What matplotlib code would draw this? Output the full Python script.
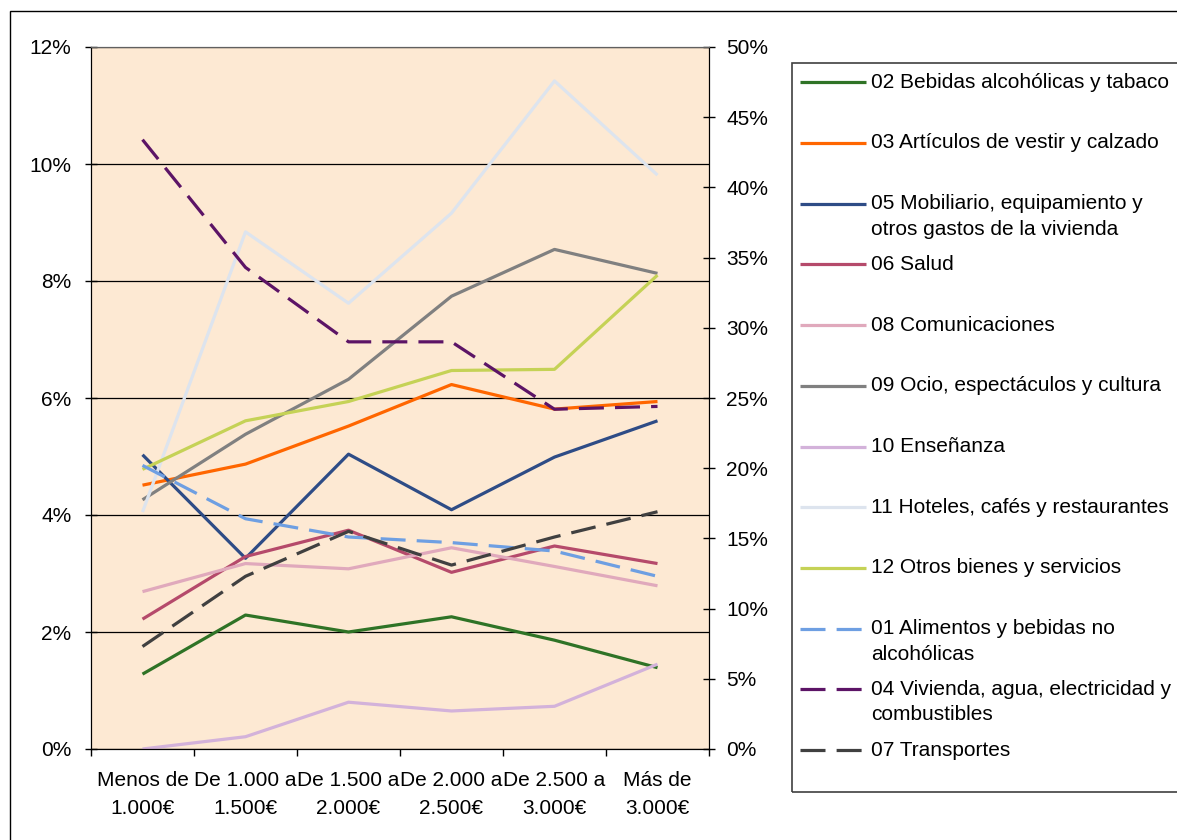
"""
Gasto por grupos de consumo según tramo de ingresos (Excel-style chart).
Solid lines use the left axis, dashed lines the right axis.
"""

import numpy as np
import matplotlib
matplotlib.use("Agg")
import matplotlib.pyplot as plt
from matplotlib.lines import Line2D
from matplotlib.patches import Rectangle
from matplotlib.ticker import PercentFormatter, FixedLocator

plt.rcParams["font.family"] = ["Liberation Sans", "DejaVu Sans"]
plt.rcParams["lines.scale_dashes"] = False

categories = ["Menos de\n1.000€", "De 1.000 a\n1.500€", "De 1.500 a\n2.000€",
              "De 2.000 a\n2.500€", "De 2.500 a\n3.000€", "Más de\n3.000€"]

# left axis series (share of spending)
bebidas = [0.0128, 0.0229, 0.0200, 0.0226, 0.0186, 0.0139]
vestir = [0.0451, 0.0487, 0.0552, 0.0623, 0.0581, 0.0594]
mobiliario = [0.0503, 0.0326, 0.0504, 0.0409, 0.0499, 0.0561]
salud = [0.0222, 0.0329, 0.0374, 0.0302, 0.0347, 0.0317]
comunicaciones = [0.0269, 0.0317, 0.0308, 0.0344, 0.0312, 0.0279]
ocio = [0.0426, 0.0538, 0.0632, 0.0774, 0.0854, 0.0813]
ensenanza = [0.0000, 0.0021, 0.0080, 0.0065, 0.0073, 0.0145]
hoteles = [0.0405, 0.0884, 0.0762, 0.0916, 0.1142, 0.0981]
otros = [0.0478, 0.0561, 0.0594, 0.0647, 0.0649, 0.0810]

# right axis series
alimentos = [0.202, 0.164, 0.151, 0.147, 0.141, 0.123]
vivienda = [0.434, 0.343, 0.290, 0.290, 0.242, 0.244]
transportes = [0.073, 0.123, 0.155, 0.131, 0.151, 0.169]

left_series = [
    ("02 Bebidas alcohólicas y tabaco", bebidas, "#2F7326"),
    ("03 Artículos de vestir y calzado", vestir, "#FF6600"),
    ("05 Mobiliario, equipamiento y\notros gastos de la vivienda", mobiliario, "#2E4C86"),
    ("06 Salud", salud, "#B54A6B"),
    ("08 Comunicaciones", comunicaciones, "#E0A9BC"),
    ("09 Ocio, espectáculos y cultura", ocio, "#808080"),
    ("10 Enseñanza", ensenanza, "#D3B2DA"),
    ("11 Hoteles, cafés y restaurantes", hoteles, "#DDE4EE"),
    ("12 Otros bienes y servicios", otros, "#C5D256"),
]
right_series = [
    ("01 Alimentos y bebidas no\nalcohólicas", alimentos, "#6E9FE2"),
    ("04 Vivienda, agua, electricidad y\ncombustibles", vivienda, "#5C1466"),
    ("07 Transportes", transportes, "#404040"),
]

W, H = 1177, 840
FS = 15
LW = 2.3
DASH = (18, 8)

fig = plt.figure(figsize=(W / 100, H / 100), dpi=100)
fig.patch.set_facecolor("white")

ax = fig.add_axes([91 / W, 1 - 749 / H, 618 / W, 702 / H])
ax.set_facecolor("#FDE9D3")
x = np.arange(len(categories))

for label, vals, color in left_series:
    ax.plot(x, vals, color=color, lw=LW, solid_capstyle="butt")

ax.set_xlim(-0.5, len(categories) - 0.5)
ax.set_ylim(0, 0.12)
ax.yaxis.set_major_locator(FixedLocator(np.arange(0, 0.121, 0.02)))
ax.yaxis.set_major_formatter(PercentFormatter(1.0, decimals=0))
ax.yaxis.grid(True, color="black", lw=0.9)
ax.set_axisbelow(True)

ax.set_xticks(np.arange(-0.5, len(categories)))
ax.set_xticklabels([])
ax.set_xticks(x, minor=True)
ax.set_xticklabels(categories, minor=True, fontsize=FS, linespacing=1.6)
ax.tick_params(axis="x", which="major", direction="out", length=5, width=1)
ax.tick_params(axis="x", which="minor", length=0, pad=16)
ax.tick_params(axis="y", direction="inout", length=9, width=1, labelsize=FS, pad=9.5)

ax2 = ax.twinx()
for label, vals, color in right_series:
    ax2.plot(x, vals, color=color, lw=LW, dashes=DASH)
ax2.set_ylim(0, 0.5)
ax2.yaxis.set_major_locator(FixedLocator(np.arange(0, 0.501, 0.05)))
ax2.yaxis.set_major_formatter(PercentFormatter(1.0, decimals=0))
ax2.tick_params(axis="y", direction="inout", length=9, width=1, labelsize=FS, pad=8)

for a in (ax, ax2):
    a.spines["top"].set_color("#606060")
    a.spines["left"].set_color("black")
    a.spines["right"].set_color("black")
    a.spines["bottom"].set_color("black")

# outer chart border (runs off the right and bottom of the picture)
fig.add_artist(Rectangle((10 / W, -0.1), 1.2, 1.1 - 11 / H, transform=fig.transFigure,
                         fill=False, ec="black", lw=1))

# legend box, Excel style: evenly spaced entries
fig.add_artist(Rectangle((792 / W, 1 - 792 / H), 1.0, (792 - 63) / H,
                         transform=fig.transFigure, fill=False, ec="#404040", lw=1.2))

entries = [(l, c, None) for l, v, c in left_series] + [(l, c, DASH) for l, v, c in right_series]
y0, step = 82.3, 60.7
for i, (label, color, dashes) in enumerate(entries):
    yc = y0 + i * step
    kw = {"dashes": dashes} if dashes else {"solid_capstyle": "butt"}
    fig.add_artist(Line2D([800 / W, 866 / W], [1 - yc / H] * 2, transform=fig.transFigure,
                          color=color, lw=LW, **kw))
    for j, line in enumerate(label.split("\n")):
        fig.text(871 / W, 1 - (yc + j * 25.5) / H, line, fontsize=FS, va="center", ha="left")

fig.savefig("out.png", dpi=100)
